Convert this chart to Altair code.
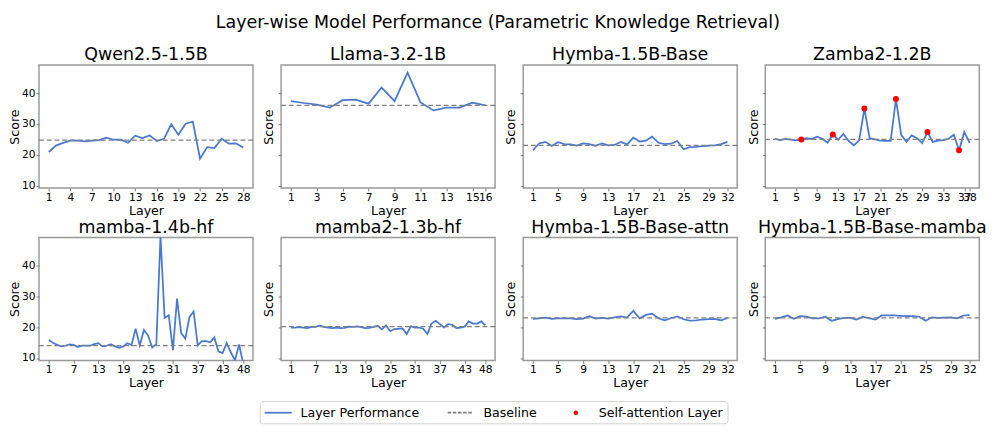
import altair as alt
import pandas as pd

FONT = "DejaVu Sans"
BLUE = "#4878d0"
GRAY = "#808080"
FRAME = "#999999"

models = ["Qwen2.5-1.5B", "Llama-3.2-1B", "Hymba-1.5B-Base", "Zamba2-1.2B",
          "mamba-1.4b-hf", "mamba2-1.3b-hf", "Hymba-1.5B-Base-attn", "Hymba-1.5B-Base-mamba"]

qwen_scores = [20.9, 23.0, 23.9, 24.6, 24.6, 24.4, 24.6, 24.8, 25.6, 24.9, 24.9, 23.9, 26.2, 25.4,
               26.3, 24.5, 25.2, 29.9, 26.5, 30.1, 30.8, 18.8, 22.5, 22.2, 25.2, 23.6, 23.7, 22.4]
llama_scores = [37.4, 36.8, 36.3, 35.3, 37.7, 37.9, 36.6, 41.8, 37.4, 46.6, 37.0, 34.4, 35.3, 35.3,
                36.9, 36.0]
hymba_scores = [21.5, 23.7, 24.2, 22.9, 24.1, 23.5, 23.4, 23.0, 23.7, 23.5, 22.9, 23.7, 23.1, 23.2,
                24.2, 23.4, 25.6, 24.3, 24.6, 25.9, 23.9, 23.5, 23.6, 24.5, 21.8, 22.5, 22.6, 22.8,
                23.0, 23.1, 23.5, 24.2]
zamba_scores = [25.2, 24.8, 25.2, 24.9, 24.7, 25.0, 25.4, 25.1, 25.9, 25.2, 23.9, 26.6, 24.9, 26.8,
                24.5, 23.1, 24.7, 35.0, 25.4, 25.0, 24.6, 24.5, 24.5, 38.1, 26.5, 24.2, 26.3, 25.4,
                23.8, 27.4, 24.2, 24.6, 24.8, 25.2, 26.5, 21.5, 27.4, 23.9]
mamba_scores = [15.9, 15.0, 14.3, 13.8, 14.0, 14.4, 14.3, 13.6, 14.0, 14.0, 14.0, 14.5, 14.8, 13.8,
                14.0, 14.5, 13.8, 13.3, 13.8, 14.8, 14.2, 19.5, 14.1, 19.1, 17.3, 13.4, 14.5, 49.5,
                23.0, 23.9, 12.6, 29.3, 18.1, 16.3, 23.3, 25.1, 14.1, 15.5, 15.5, 15.1, 16.7, 12.2,
                11.6, 14.9, 11.8, 9.3, 14.4, 8.0]
mamba2_scores = [19.9, 19.9, 20.0, 19.9, 19.7, 20.1, 20.1, 20.5, 20.1, 19.9, 19.7, 19.9, 19.7, 19.8,
                 20.2, 20.1, 20.3, 20.0, 19.7, 19.8, 20.1, 20.5, 19.3, 20.6, 18.7, 19.4, 19.5, 19.6,
                 17.8, 20.3, 19.9, 19.9, 19.5, 17.8, 21.2, 22.1, 21.0, 19.9, 21.0, 20.8, 19.7, 19.9,
                 20.2, 21.9, 21.2, 21.2, 21.9, 20.6]
hymba_attn_scores = [22.7, 22.9, 23.1, 22.7, 22.9, 22.9, 22.9, 22.6, 22.8, 23.6, 22.8, 23.0, 22.8,
                     23.2, 23.5, 23.1, 25.3, 22.9, 24.0, 24.4, 22.9, 22.2, 22.9, 23.5, 22.6, 22.1,
                     22.2, 22.5, 22.6, 22.7, 22.2, 23.0]
hymba_mamba_scores = [22.7, 23.2, 23.8, 22.7, 23.6, 23.4, 22.9, 22.9, 23.4, 22.1, 22.6, 23.0, 23.0,
                      22.5, 23.4, 22.9, 22.5, 23.8, 23.8, 23.8, 23.7, 23.6, 23.6, 23.4, 22.1, 23.2,
                      23.0, 23.1, 23.2, 22.9, 23.8, 23.9]

baselines = [24.8, 36.05, 23.1, 25.05, 14.0, 20.2, 23.0, 23.0]
zamba_attention_layers = [6, 12, 18, 24, 30, 36]

qwen_ticks = [1, 4, 7, 10, 13, 16, 19, 22, 25, 28]
llama_ticks = [1, 3, 5, 7, 9, 11, 13, 15, 16]
hymba_ticks = [1, 5, 9, 13, 17, 21, 25, 29, 32]
zamba_ticks = [1, 5, 9, 13, 17, 21, 25, 29, 33, 37, 38]
mamba_ticks = [1, 7, 13, 19, 25, 31, 37, 43, 48]
y_ticks = [10, 20, 30, 40]
Y_DOMAIN = [9.25, 49.1]

legend_labels = ["Layer Performance", "Baseline", "Self-attention Layer"]
legend_colors = [BLUE, GRAY, "red"]
legend_shapes = [
    "M-1,0H3",
    "M-1,0H-0.47M-0.24,0H0.29M0.52,0H1.05M1.28,0H1.81M2.04,0H2.57",
    "M0.71,0A0.2,0.2 0 1,0 1.11,0A0.2,0.2 0 1,0 0.71,0Z",
]

all_scores = [qwen_scores, llama_scores, hymba_scores, zamba_scores,
              mamba_scores, mamba2_scores, hymba_attn_scores, hymba_mamba_scores]
all_ticks = [qwen_ticks, llama_ticks, hymba_ticks, zamba_ticks,
             mamba_ticks, mamba_ticks, hymba_ticks, hymba_ticks]

W, H = 221, 127


def panel(idx):
    name = models[idx]
    scores = all_scores[idx]
    n = len(scores)
    col = idx % 4
    df = pd.DataFrame({"Layer": list(range(1, n + 1)), "Score": scores})
    m = 0.05 * (n - 1)
    x = alt.X("Layer:Q",
              scale=alt.Scale(domain=[1 - m, n + m], nice=False, zero=False),
              axis=alt.Axis(values=all_ticks[idx], title="Layer", labelOverlap=False,
                            labelFlush=False, grid=False))
    y = alt.Y("Score:Q",
              scale=alt.Scale(domain=Y_DOMAIN, nice=False, zero=False),
              axis=alt.Axis(values=y_ticks, title="Score", labels=(col == 0), grid=False,
                            titlePadding=(0 if col == 0 else 2)))
    line = alt.Chart(df).mark_line(color=BLUE, strokeWidth=1.8, clip=True).encode(x=x, y=y)
    base = alt.Chart(pd.DataFrame({"Score": [baselines[idx]]})).mark_rule(
        color=GRAY, strokeWidth=1.3, strokeDash=[5, 3]).encode(y=y)
    layers = [line, base]
    if name == "Zamba2-1.2B":
        pts = df[df["Layer"].isin(zamba_attention_layers)]
        dots = alt.Chart(pts).mark_circle(color="red", size=38, opacity=1).encode(x=x, y=y)
        layers.append(dots)
        leg = alt.Legend(title=None, orient="none", direction="horizontal",
                         legendX=228, legendY=347)
        lg = alt.Chart(pd.DataFrame({"series": legend_labels})).mark_point(
            filled=True, strokeWidth=1.8, opacity=1).encode(
            fill=alt.Fill("series:N", scale=alt.Scale(domain=legend_labels, range=legend_colors),
                          legend=leg),
            stroke=alt.Stroke("series:N", scale=alt.Scale(domain=legend_labels, range=legend_colors),
                              legend=leg),
            shape=alt.Shape("series:N", scale=alt.Scale(domain=legend_labels, range=legend_shapes),
                            legend=leg),
        ).transform_filter("false")
        layers.append(lg)
    return alt.layer(*layers).properties(
        width=W, height=H,
        title=alt.TitleParams(name, fontSize=18, font=FONT, fontWeight="normal",
                              anchor="middle", offset=1))


row1 = alt.hconcat(*[panel(i) for i in range(4)], spacing=7)
row2 = alt.hconcat(*[panel(i) for i in range(4, 8)], spacing=7)

chart = alt.vconcat(row1, row2, spacing=0).properties(
    title=alt.TitleParams("Layer-wise Model Performance (Parametric Knowledge Retrieval)",
                          fontSize=18, font=FONT, fontWeight="normal", anchor="middle", offset=14),
    padding={"left": 0, "top": 0, "right": 0, "bottom": 0},
).configure_view(
    stroke=FRAME, strokeWidth=1.5
).configure_axis(
    labelFont=FONT, titleFont=FONT, labelFontSize=11, titleFontSize=13,
    labelColor="black", titleColor="black", titleFontWeight="normal",
    domain=False, tickColor="#777777", tickSize=3, tickWidth=1, labelPadding=1,
).configure_axisX(titlePadding=2).configure_legend(
    labelFont=FONT, labelFontSize=13, labelColor="black", symbolSize=196,
    labelOffset=22, columnPadding=25, padding=4, strokeColor="#d0d0d0",
    cornerRadius=3, symbolStrokeWidth=1.8,
)

chart.save("out.html", embed_options={"renderer": "svg", "actions": False})
